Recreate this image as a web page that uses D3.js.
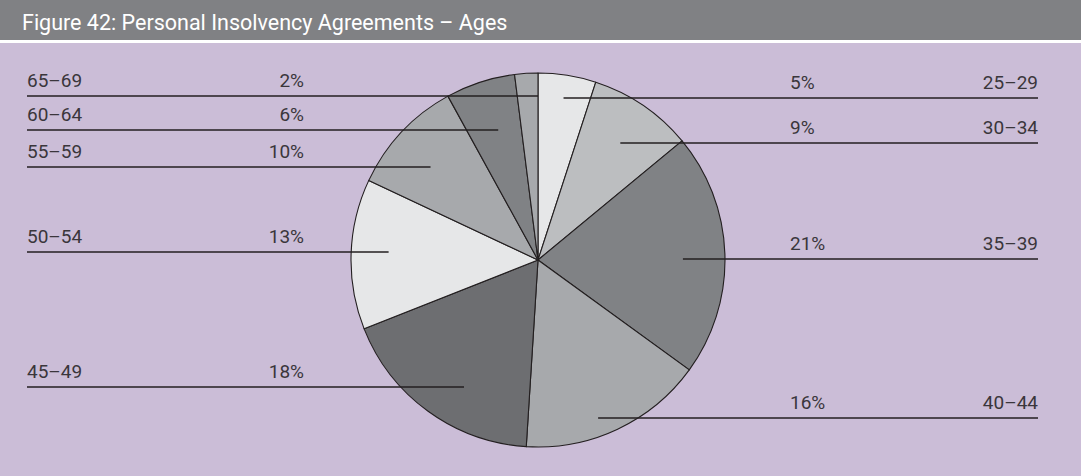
<!DOCTYPE html>
<html><head><meta charset="utf-8">
<script src="https://cdn.jsdelivr.net/npm/d3@7"></script>
<style>html,body{margin:0;padding:0;background:#fff;overflow:hidden}</style>
</head><body><svg id="c" width="1081" height="476"></svg>
<script>
// ---- data ----
const ages = ["25–29","30–34","35–39","40–44","45–49","50–54","55–59","60–64","65–69"];
const shares = [5, 9, 21, 16, 18, 13, 10, 6, 2];
const sliceColors = ["#e6e7e8","#bcbec0","#808285","#a7a9ac","#6d6e71","#e6e7e8","#a7a9ac","#808285","#a7a9ac"];
const title = "Figure 42: Personal Insolvency Agreements – Ages";

// ---- layout ----
const labelY = [98, 143, 259, 418, 387, 252, 167, 130, 96];
const leaderFrac = [0.877, 0.765, 0.775, 0.904, 0.786, 0.80, 0.76, 0.727, 0.877];
const W = 1081, H = 476, cx = 538, cy = 260, R = 187;
const leftX = 27, leftPctX = 304, rightPctX = 790, rightX = 1038;

const svg = d3.select("#c");
svg.append("rect").attr("width", W).attr("height", H).attr("fill", "#cbbdd7");
svg.append("rect").attr("width", W).attr("height", 40).attr("fill", "#808184");
svg.append("rect").attr("y", 40).attr("width", W).attr("height", 3).attr("fill", "#ffffff");
svg.append("text").attr("x", 22).attr("y", 30).attr("fill", "#fff")
  .attr("font-family", "Roboto").attr("font-size", 21.5).text(title);

const data = ages.map((a, i) => ({age: a, v: shares[i], color: sliceColors[i], i}));
const pie = d3.pie().value(d => d.v).sort(null);
const arcs = pie(data);
const arc = d3.arc().innerRadius(0).outerRadius(R);

const g = svg.append("g").attr("transform", `translate(${cx},${cy})`);
g.selectAll("path").data(arcs).join("path")
  .attr("d", arc).attr("fill", d => d.data.color)
  .attr("stroke", "#231f20").attr("stroke-width", 1.1).attr("stroke-linejoin", "round");

const font = {family: "Roboto", size: 19, fill: "#3a363b"};
arcs.forEach((a, i) => {
  const mid = (a.startAngle + a.endAngle) / 2;
  const right = Math.sin(mid) > 0;
  const y = labelY[i];
  const dy = y - cy;
  const rr = leaderFrac[i] * R;
  const dx = Math.sqrt(Math.max(0, rr * rr - dy * dy));
  const ex = right ? cx + dx : cx - dx;
  svg.append("line").attr("x1", right ? ex : leftX).attr("x2", right ? rightX : ex)
    .attr("y1", y).attr("y2", y).attr("stroke", "#231f20").attr("stroke-width", 1.3);
  const t1 = svg.append("text").attr("y", y - 9).attr("font-family", font.family)
    .attr("font-size", font.size).attr("fill", font.fill);
  const t2 = svg.append("text").attr("y", y - 9).attr("font-family", font.family)
    .attr("font-size", font.size).attr("fill", font.fill);
  if (right) {
    t1.attr("x", rightPctX).attr("text-anchor", "start").text(a.data.v + "%");
    t2.attr("x", rightX).attr("text-anchor", "end").text(a.data.age);
  } else {
    t1.attr("x", leftX).attr("text-anchor", "start").text(a.data.age);
    t2.attr("x", leftPctX).attr("text-anchor", "end").text(a.data.v + "%");
  }
});
</script></body></html>
